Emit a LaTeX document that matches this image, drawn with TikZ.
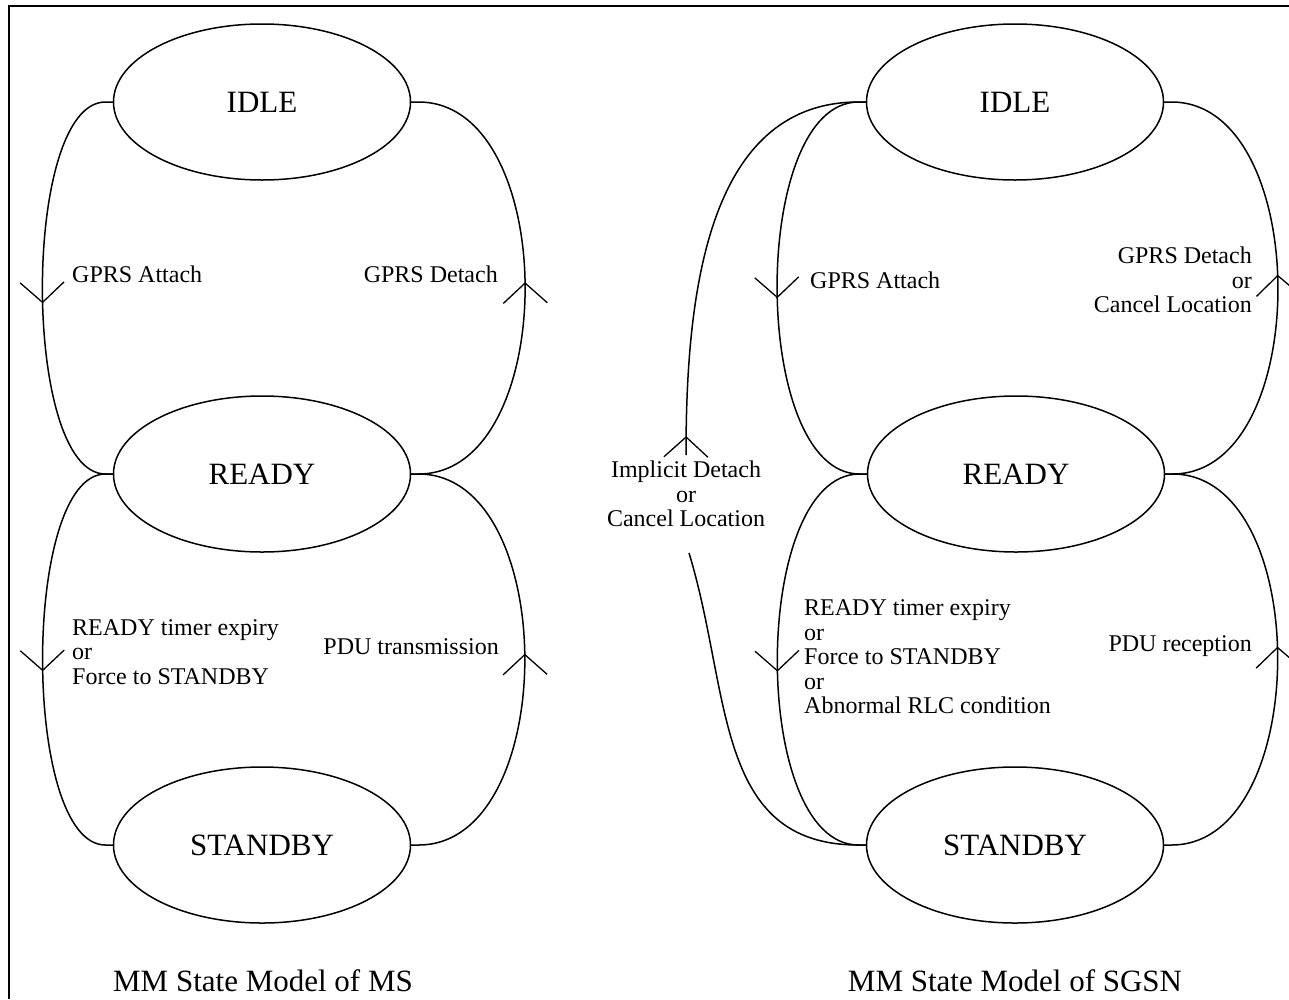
\documentclass[tikz,border=0pt]{standalone}
\usepackage{fontspec}
\setmainfont{Liberation Serif}
\usetikzlibrary{shapes.geometric,decorations.markings,calc}

\begin{document}
\begin{tikzpicture}[x=1pt,y=1pt,
  state/.style={draw, ellipse, line width=1.5pt, minimum width=297pt,
    minimum height=156pt, inner sep=0pt, outer sep=0pt,
    font=\fontsize{31}{33}\selectfont},
  link/.style={line width=1.5pt},
  lbl/.style={font=\fontsize{24}{24.5}\selectfont, inner sep=0pt},
  caption/.style={font=\fontsize{31}{33}\selectfont, inner sep=0pt},
  vhead/.style={postaction={decorate}, decoration={markings,
    mark=at position #1 with {\draw[line width=1.3pt] (-20,22) -- (0,0) -- (-20,-22);}}}
]
\useasboundingbox (0,0) rectangle (1289,-999);
% frame (top and left edges)
\draw[line width=2.5pt] (9,-999) -- (9,-6) -- (1289,-6);

% ---------------- MS state model ----------------
\node[state] (msidle)    at (262,-102) {IDLE};
\node[state] (msready)   at (262,-474) {READY};
\node[state] (msstandby) at (262,-845) {STANDBY};

\draw[link, vhead=0.533] (msidle.west) -- ++(-8,0)
  to[out=180,in=180,looseness=0.58] ($(msready.west)+(-8,0)$) -- (msready.west);
\draw[link, vhead=0.51] (msready.east) -- ++(8,0)
  to[out=0,in=0,looseness=0.98] ($(msidle.east)+(8,0)$) -- (msidle.east);
\draw[link, vhead=0.525] (msready.west) -- ++(-8,0)
  to[out=180,in=180,looseness=0.58] ($(msstandby.west)+(-8,0)$) -- (msstandby.west);
\draw[link, vhead=0.51] (msstandby.east) -- ++(8,0)
  to[out=0,in=0,looseness=0.98] ($(msready.east)+(8,0)$) -- (msready.east);

\node[lbl, anchor=west] (msatt) at (72,-274) {GPRS Attach};
\node[lbl, anchor=east] (msdet) at (498,-274) {GPRS Detach};
\node[lbl, anchor=west, align=left] (mstimer) at (72,-652)
  {READY timer expiry\\or\\Force to STANDBY};
\node[lbl, anchor=east] (mspdu) at (499,-647) {PDU transmission};
\node[caption] (mscap) at (263,-981) {MM State Model of MS};

% ---------------- SGSN state model ----------------
\node[state] (sgidle)    at (1015,-102) {IDLE};
\node[state] (sgready)   at (1016,-474) {READY};
\node[state] (sgstandby) at (1015,-845) {STANDBY};

\draw[link, vhead=0.52] (sgidle.west) -- ++(-8,0)
  to[out=180,in=180,looseness=0.75] ($(sgready.west)+(-8,0)$) -- (sgready.west);
\draw[link, vhead=0.525] (sgready.east) -- ++(8,0)
  to[out=0,in=0,looseness=0.97] ($(sgidle.east)+(8,0)$) -- (sgidle.east);
\draw[link, vhead=0.525] (sgready.west) -- ++(-8,0)
  to[out=180,in=180,looseness=0.75] ($(sgstandby.west)+(-8,0)$) -- (sgstandby.west);
\draw[link, vhead=0.525] (sgstandby.east) -- ++(8,0)
  to[out=0,in=0,looseness=0.97] ($(sgready.east)+(8,0)$) -- (sgready.east);

% implicit detach: STANDBY back to IDLE, broken by its label
\node[lbl, align=center] (sgimpl) at (686,-494)
  {Implicit Detach\\or\\Cancel Location};
\coordinate (imptop) at (686,-455);
\coordinate (impbot) at (689,-553);
\draw[link] (sgstandby.west) -- ++(-8,0) to[out=180,in=-73,looseness=1.1] (impbot);
\draw[link, vhead=18pt] (imptop) to[out=90,in=180] ($(sgidle.west)+(-8,0)$) -- (sgidle.west);

\node[lbl, anchor=west] (sgatt) at (810,-280) {GPRS Attach};
\node[lbl, anchor=east, align=right] (sgdet) at (1252,-280)
  {GPRS Detach\\or\\Cancel Location};
\node[lbl, anchor=west, align=left] (sgtimer) at (804,-657)
  {READY timer expiry\\or\\Force to STANDBY\\or\\Abnormal RLC condition};
\node[lbl, anchor=east] (sgpdu) at (1252,-646) {PDU reception};
\node[caption] (sgcap) at (1015,-981) {MM State Model of SGSN};
\end{tikzpicture}
\end{document}
